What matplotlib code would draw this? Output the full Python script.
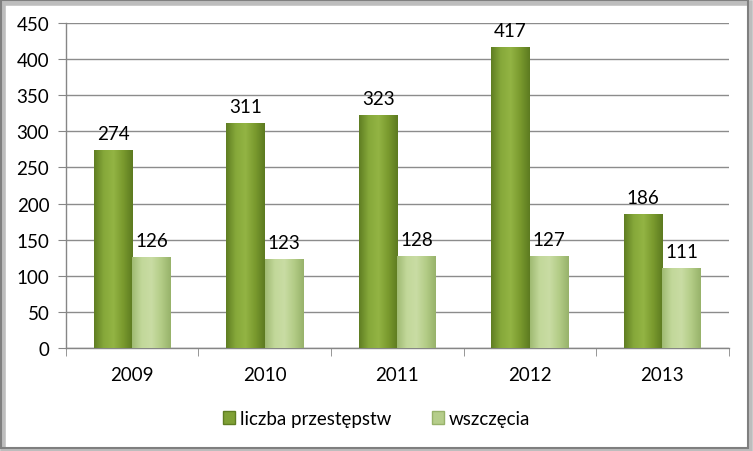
import numpy as np
import matplotlib
matplotlib.use("Agg")
import matplotlib.pyplot as plt
from matplotlib.patches import Rectangle, Patch
from matplotlib.colors import LinearSegmentedColormap

categories = ["2009", "2010", "2011", "2012", "2013"]
series_names = ["liczba przestępstw", "wszczęcia"]
przestepstwa = [274, 311, 323, 417, 186]
wszczecia = [126, 123, 128, 127, 111]
yticks = [0, 50, 100, 150, 200, 250, 300, 350, 400, 450]

plt.rcParams['font.family'] = ['Lato', 'DejaVu Sans']

fig = plt.figure(figsize=(7.53, 4.52), dpi=100)
ax = fig.add_axes([0.0876, 0.228, 0.880, 0.719])

x = np.arange(len(categories))
w = 0.29
dark_cmap = LinearSegmentedColormap.from_list("d", ["#5f7d22", "#86a83a", "#93b444", "#7a9a2e", "#5c7a20"])
light_cmap = LinearSegmentedColormap.from_list("l", ["#9fba72", "#c2d89a", "#c9dca4", "#b3cc86", "#97b26a"])

b1 = ax.bar(x - w/2, przestepstwa, w, color="#7fa035", zorder=3, edgecolor="none")
b2 = ax.bar(x + w/2, wszczecia, w, color="#b5cd8a", zorder=3, edgecolor="none")

grad = np.linspace(0, 1, 256).reshape(1, -1)
for bars, cmap in ((b1, dark_cmap), (b2, light_cmap)):
    for r in bars:
        x0, y0 = r.get_x(), r.get_y()
        im = ax.imshow(grad, cmap=cmap, aspect="auto", zorder=3.5,
                       extent=[x0, x0 + r.get_width(), y0, y0 + r.get_height()])
        im.set_clip_path(r)

for bars, vals in ((b1, przestepstwa), (b2, wszczecia)):
    for r, v in zip(bars, vals):
        ax.text(r.get_x() + r.get_width()/2, v + 11, str(v), ha="center", va="bottom",
                fontsize=13.5, color="#000000", zorder=5)

ax.set_xlim(-0.5, len(categories) - 0.5)
ax.set_ylim(0, 450)
ax.set_yticks(yticks)
ax.set_xticks(x)
ax.set_xticklabels(categories)
ax.set_xticks(np.arange(-0.5, len(categories)), minor=True)
ax.tick_params(axis="x", which="major", length=0, pad=13, labelsize=13.5)
ax.tick_params(axis="x", which="minor", length=6, color="#868686", direction="out")
ax.tick_params(axis="y", length=6, color="#868686", direction="out", pad=6, labelsize=13.5)
ax.grid(axis="y", color="#8c8c8c", linewidth=1.0, zorder=0)
for s in ("top", "right"):
    ax.spines[s].set_visible(False)
for s in ("left", "bottom"):
    ax.spines[s].set_color("#868686")
    ax.spines[s].set_linewidth(1.0)

handles = [Patch(facecolor="#7fa035", edgecolor="#5f7d22"), Patch(facecolor="#b5cd8a", edgecolor="#97b26a")]
fig.legend(handles, series_names, loc="center", bbox_to_anchor=(0.5, 0.072), ncol=2,
           frameon=False, fontsize=13.5, handlelength=0.65, handleheight=0.65,
           handletextpad=0.25, columnspacing=2.2)

# border with shadow
fig.patches.append(Rectangle((0.004, 0.0), 0.992, 0.992, transform=fig.transFigure,
                             fill=False, edgecolor="#bdbdbd", linewidth=4, zorder=0))
fig.patches.append(Rectangle((0.0015, 0.006), 0.9915, 0.9915, transform=fig.transFigure,
                             fill=False, edgecolor="#7f7f7f", linewidth=1.5, zorder=1))

fig.savefig("out.png", dpi=100)
